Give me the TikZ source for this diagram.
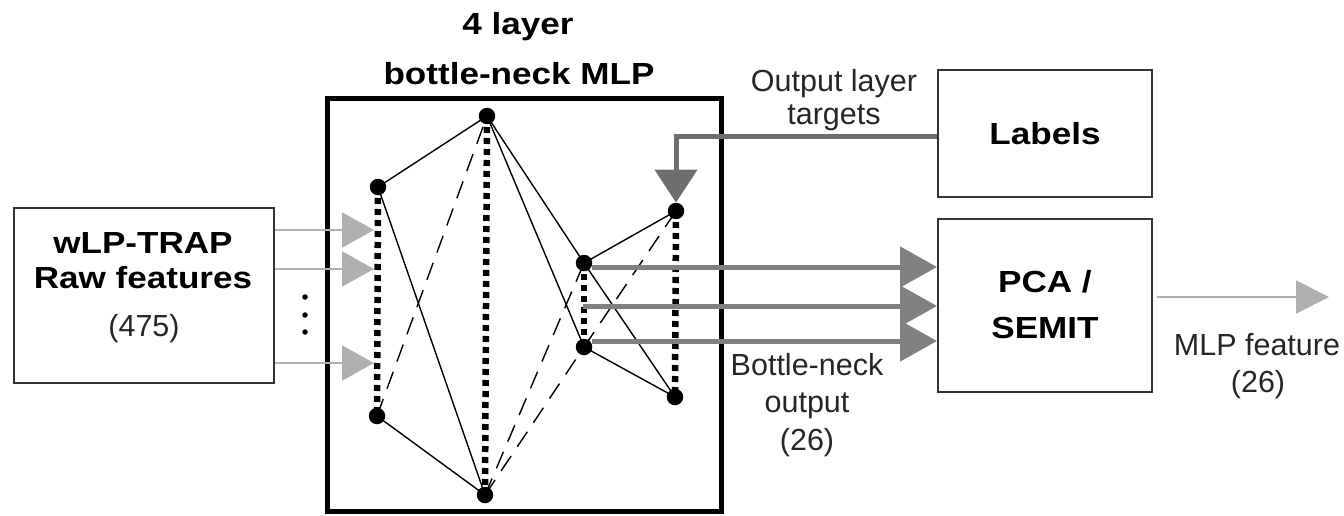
\documentclass[tikz,border=0pt]{standalone}
\usepackage{fontspec}
\setmainfont{Liberation Sans}
\newfontfamily\bsf[FakeStretch=1.15]{Liberation Sans}
\usetikzlibrary{arrows.meta}
\definecolor{lg}{HTML}{B0B0B0}
\definecolor{dg}{HTML}{808080}
\definecolor{labg}{HTML}{6E6E6E}
\definecolor{bord}{HTML}{333333}
\begin{document}
\begin{tikzpicture}[x=1pt,y=-1pt,
  btxt/.style={anchor=base, font=\bsf\bfseries\fontsize{30.5}{36}\selectfont, inner sep=0pt},
  rtxt/.style={anchor=base, font=\fontsize{30.5}{36}\selectfont, inner sep=0pt, text=black!85},
  box/.style={draw=bord, line width=2pt, inner sep=0pt, fill=none},
  neuron/.style={circle, fill=black, inner sep=0pt, minimum size=16.5pt},
  wire/.style={line width=1.4pt},
  dwire/.style={line width=1.4pt, dash pattern=on 18pt off 11pt},
  dotl/.style={line width=6.5pt, dash pattern=on 6pt off 5pt},
  inarr/.style={draw=lg, line width=2pt, -{Triangle[length=32pt,width=35pt]}},
  bnarr/.style={draw=dg, line width=5pt, -{Triangle[length=37pt,width=40pt]}},
  labarr/.style={draw=labg, line width=5pt, -{Triangle[length=33pt,width=42pt]}},
  outarr/.style={draw=lg, line width=2pt, -{Triangle[length=33pt,width=33pt]}},
  vdot/.style={circle, fill=black, inner sep=0pt, minimum size=5.5pt}
]
\useasboundingbox (0,0) rectangle (1344,516);

% boxes
\node[box, minimum width=260pt, minimum height=175pt] (raw) at (144,295) {};
\node[draw=black, line width=5pt, inner sep=0pt, minimum width=394pt, minimum height=412pt] (mlp) at (524,305) {};
\node[box, minimum width=214pt, minimum height=127pt] (labels) at (1045,133.5) {};
\node[box, minimum width=214pt, minimum height=173pt] (pca) at (1045,305.5) {};

% texts
\node[btxt] (t1) at (518,35) {4 layer};
\node[btxt] (t2) at (519,85) {bottle-neck MLP};
\node[btxt] (r1) at (143,253) {wLP-TRAP};
\node[btxt] (r2) at (143,288) {Raw features};
\node[rtxt] (r3) at (144,336) {(475)};
\node[btxt] (lt) at (1045,145) {Labels};
\node[btxt] (p1) at (1045,292) {PCA /};
\node[btxt] (p2) at (1045,338) {SEMIT};
\node[rtxt] (o1) at (834,92) {Output layer};
\node[rtxt] (o2) at (834,125) {targets};
\node[rtxt] (b1) at (807,375) {Bottle-neck};
\node[rtxt] (b2) at (807,412) {output};
\node[rtxt] (b3) at (807,450) {(26)};
\node[rtxt] (m1) at (1257,355) {MLP feature};
\node[rtxt] (m2) at (1258,392) {(26)};

% neuron positions
\coordinate (c1a) at (378,187);
\coordinate (c1b) at (377,416);
\coordinate (c2a) at (487,116);
\coordinate (c2b) at (485,495);
\coordinate (c3a) at (584,263);
\coordinate (c3b) at (584,347);
\coordinate (n3m) at (583,306);
\coordinate (c4a) at (676,211);
\coordinate (c4b) at (675,397);

% weights
\draw[wire] (c1a) -- (c2a);
\draw[wire] (c1a) -- (c2b);
\draw[wire] (c1b) -- (c2b);
\draw[dwire] (c1b) -- (c2a);
\draw[wire] (c2a) -- (c3a);
\draw[wire] (c2a) -- (c3b);
\draw[dwire] (c2b) -- (c3a);
\draw[dwire] (c2b) -- (c3b);
\draw[wire] (c3a) -- (c4a);
\draw[wire] (c3a) -- (c4b);
\draw[wire] (c3b) -- (c4b);
\draw[dwire] (c3b) -- (c4a);

% layers
\draw[dotl] (c1a) -- (c1b);
\draw[dotl] (c2a) -- (c2b);
\draw[dotl] (c3a) -- (c3b);
\draw[dotl] (c4a) -- (c4b);

\node[neuron] (n1a) at (c1a) {};
\node[neuron] (n1b) at (c1b) {};
\node[neuron] (n2a) at (c2a) {};
\node[neuron] (n2b) at (c2b) {};
\node[neuron] (n3a) at (c3a) {};
\node[neuron] (n3b) at (c3b) {};
\node[neuron] (n4a) at (c4a) {};
\node[neuron] (n4b) at (c4b) {};

% input arrows
\coordinate (in1) at (374,230);
\coordinate (in2) at (374,269);
\coordinate (in3) at (374,363);
\draw[inarr] (raw.east |- in1) -- (in1);
\draw[inarr] (raw.east |- in2) -- (in2);
\draw[inarr] (raw.east |- in3) -- (in3);
\node[vdot] (d1) at (305,297) {};
\node[vdot] (d2) at (305,315) {};
\node[vdot] (d3) at (305,332) {};

% bottle-neck outputs
\draw[bnarr] (n3a.east |- 0,267) -- (pca.west |- 0,267);
\draw[bnarr] (n3m) -- (pca.west |- n3m);
\draw[bnarr] (n3b.east |- 0,341) -- (pca.west |- 0,341);

% labels targets
\coordinate (lbend) at (676,137);
\draw[labarr] (labels.west |- lbend) -- (lbend) -- (n4a);

% output
\coordinate (mlpout) at (1329,297);
\draw[outarr] (pca.east |- mlpout) ++(4,0) -- (mlpout);
\end{tikzpicture}
\end{document}
